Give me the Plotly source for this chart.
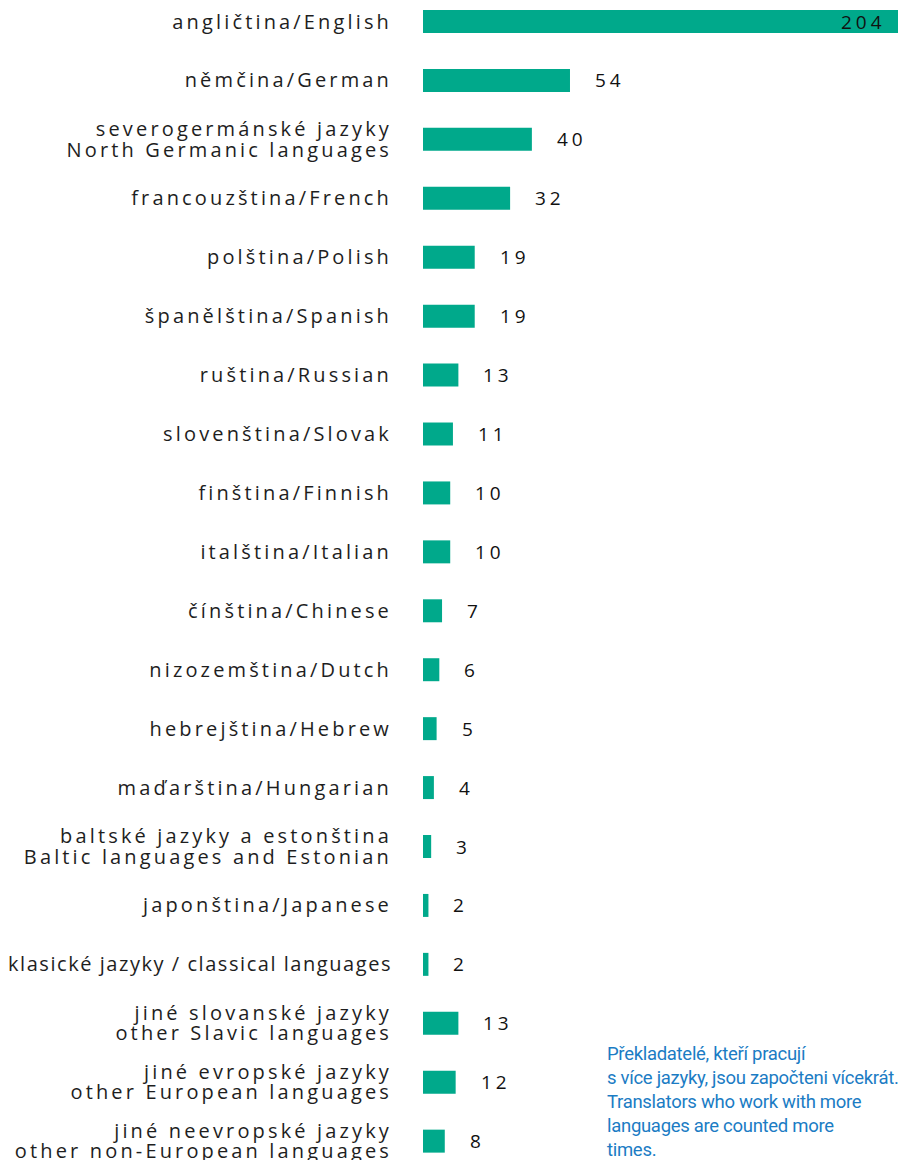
import json
import plotly.graph_objects as go

# Number of translators per working language (top to bottom)
languages = [
    "angličtina/English",
    "němčina/German",
    "severogermánské jazyky<br>North Germanic languages",
    "francouzština/French",
    "polština/Polish",
    "španělština/Spanish",
    "ruština/Russian",
    "slovenština/Slovak",
    "finština/Finnish",
    "italština/Italian",
    "čínština/Chinese",
    "nizozemština/Dutch",
    "hebrejština/Hebrew",
    "maďarština/Hungarian",
    "baltské jazyky a estonština<br>Baltic languages and Estonian",
    "japonština/Japanese",
    "klasické jazyky / classical languages",
    "jiné slovanské jazyky<br>other Slavic languages",
    "jiné evropské jazyky<br>other European languages",
    "jiné neevropské jazyky<br>other non-European languages",
]
translators = [204, 54, 40, 32, 19, 19, 13, 11, 10, 10, 7, 6, 5, 4, 3, 2, 2, 13, 12, 8]

note = ("Překladatelé, kteří pracují<br>s více jazyky, jsou započteni vícekrát.<br>"
        "Translators who work with more<br>languages are counted more<br>times.")

# labels that are set with only light tracking
untracked = ["klasické jazyky / classical languages"]

BAR = "#00a98b"
X_MAX = 174.5  # the English bar runs off the right edge
LABEL_FONT = "Open Sans"

fig = go.Figure(go.Bar(
    x=translators,
    y=languages,
    orientation="h",
    marker=dict(color=BAR, line=dict(width=0)),
    width=0.39,
    hoverinfo="x+y",
))

for lang, v in zip(languages, translators):
    if v > X_MAX:
        fig.add_annotation(x=X_MAX, y=lang, text=str(v), showarrow=False,
                           xanchor="right", align="left", xshift=-22,
                           font=dict(family=LABEL_FONT, size=19, color="#111111"))
    else:
        fig.add_annotation(x=v, y=lang, text=str(v), showarrow=False,
                           xanchor="left", align="left", xshift=23,
                           font=dict(family=LABEL_FONT, size=19, color="#111111"))

note_index = len(fig.layout.annotations)
fig.add_annotation(x=(608 - 423) / (898 - 423), y=1 - 1042 / 1160,
                   xref="paper", yref="paper", text=note, xshift=-2,
                   showarrow=False, xanchor="left", yanchor="top", align="left",
                   borderpad=0,
                   font=dict(family="Roboto", size=18.5, color="#1b7cc4"))

fig.update_layout(
    width=898, height=1160,
    margin=dict(l=423, r=0, t=0, b=0, autoexpand=False),
    paper_bgcolor="white", plot_bgcolor="white",
    showlegend=False,
    xaxis=dict(range=[0, X_MAX], visible=False, fixedrange=True, automargin=False),
    yaxis=dict(
        type="category",
        categoryorder="array", categoryarray=languages,
        range=[19.32, -0.365], autorange=False, automargin=False,
        showgrid=False, zeroline=False, showline=False, ticks="",
        ticklabelstandoff=30,
        tickfont=dict(family=LABEL_FONT, size=20, color="#1e1e1e"),
    ),
)

post = """
var gd = document.getElementById('{plot_id}');
var untracked = UNTRACKED;
function track(){
  gd.querySelectorAll('.ytick text').forEach(function(t){
    t.style.letterSpacing = (untracked.indexOf(t.textContent) < 0) ? '3.15px' : '1.55px';
    var lines = t.querySelectorAll('tspan.line');
    if (lines.length > 1 && lines[1].getAttribute('dy') !== '1.02em') {
      var fs = parseFloat(window.getComputedStyle(t).fontSize) || 20;
      lines[1].setAttribute('dy', '1.02em');
      var tr = t.getAttribute('transform') || '';
      t.setAttribute('transform', tr + ' translate(0,' + (0.14 * fs) + ')');
    }
  });
  gd.querySelectorAll('.annotation-text').forEach(function(t){
    if (/^\\d+$/.test(t.textContent)) t.style.letterSpacing = '4px';
  });
  gd.querySelectorAll('.annotation[data-index="NOTE"] text').forEach(function(t){
    t.style.letterSpacing = '-0.3px';
  });
}
track();
gd.on('plotly_afterplot', track);
""".replace("UNTRACKED", json.dumps(untracked, ensure_ascii=False)).replace("NOTE", str(note_index))

fig.write_html("out.html", post_script=post)
